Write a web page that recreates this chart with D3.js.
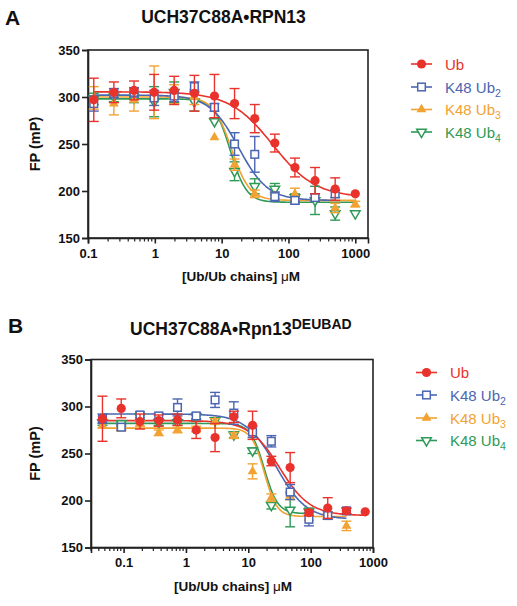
<!DOCTYPE html>
<html><head><meta charset="utf-8">
<script src="https://cdn.jsdelivr.net/npm/d3@7"></script>
<style>
body{margin:0;background:#fff;}
svg{display:block;font-family:"Liberation Sans",Arial,Helvetica,sans-serif;}
</style></head>
<body><svg id="c" width="517" height="606"></svg>
<script>
// ---------- DATA ----------
const seriesNames = ["Ub", "K48 Ub", "K48 Ub", "K48 Ub"];
const seriesSubs = ["", "2", "3", "4"];
const colors = ["#e8322b", "#4b66b2", "#f2a233", "#2f9a57"];

// Panel A concentrations (µM)
const xA = [0.122, 0.244, 0.488, 0.977, 1.95, 3.91, 7.81, 15.6, 31.3, 62.5, 125, 250, 500, 1000];
const yA_ub   = [297, 305, 307, 305, 307, 304, 301, 293, 277, 251, 225, 211, 202, 197];
const eA_ub   = [23, 11, 10, 19, 15, 19, 23, 16, 15, 9.5, 10, 14, 12, 0];
const yA_ub2  = [293, 304, 305, 299, 301, 311, 289, 250, 239, 194, 190, 193, 197];
const eA_ub2  = [8, 5, 5, 8, 6, 5, 4, 12, 19, 5, 4, 4, 4];
const yA_ub3  = [299, 293, 297, 305, 303, 300, 257, 228, 197, 195, 197, 193, 182, 186];
const eA_ub3  = [12, 12, 12, 28, 10, 8, 0, 6, 4, 3, 6, 4, 5, 3];
const yA_ub4  = [298, 300, 299, 295, 305, 295, 274, 221, 205, 202, 193, 190, 176, 176];
const eA_ub4  = [6, 5, 5, 16, 11, 10, 0, 10, 8, 6, 4, 15, 7, 0];
// Fitted curve parameters A: [top, bottom, EC50, Hill]
const fitA = [[305.5, 193, 58, 1.35], [302, 190, 18, 2.0], [300, 190, 14, 3.2], [298, 188, 13.5, 3.6]];

// Panel B concentrations (µM)
const xB = [0.0458, 0.0916, 0.183, 0.366, 0.732, 1.46, 2.93, 5.86, 11.7, 23.4, 46.9, 93.8, 188, 375, 750];
const yB_ub   = [287, 298, 284, 285, 286, 275, 267, 289, 280, 242, 235, 187, 192, 189, 188];
const eB_ub   = [24, 10, 8, 6, 6, 9, 15, 6, 15, 5, 16, 3, 11, 3, 0];
const yB_ub2  = [287, 278, 291, 290, 299, 290, 307, 293, 273, 263, 209, 180, 184, 189];
const eB_ub2  = [5, 3, 3, 3, 9, 3, 8, 12, 6, 6, 8, 7, 4, 3];
const yB_ub3  = [280, 277, 282, 272, 275, 276, 284, 269, 231, 203, 205, 182, 183, 173];
const eB_ub3  = [3, 3, 3, 3, 3, 3, 3, 3, 8, 4, 4, 3, 3, 5];
const yB_ub4  = [283, 282, 289, 283, 283, 289, 285, 270, 253, 195, 190, 188];
const eB_ub4  = [3, 3, 3, 3, 3, 3, 3, 3, 3, 4, 18, 4];
const fitB = [[285, 184, 32, 1.8], [292, 180, 28, 1.8], [277, 183, 18, 4.3], [282, 186, 18, 4.0]];

const yTicks = [150, 200, 250, 300, 350];
const xTickLabels = ["0.1", "1", "10", "100", "1000"];
const xTickValues = [0.1, 1, 10, 100, 1000];

// ---------- DRAW ----------
const svg = d3.select("#c");

function panel(cfg) {
  const g = svg.append("g");
  const x = d3.scaleLog().domain(cfg.xDomain).range([cfg.x0, cfg.x1]);
  const y = d3.scaleLinear().domain([150, 350]).range([cfg.y1, cfg.y0]);

  // frame
  g.append("rect").attr("x", cfg.x0).attr("y", cfg.y0)
    .attr("width", cfg.x1 - cfg.x0).attr("height", cfg.y1 - cfg.y0)
    .attr("fill", "none").attr("stroke", "#222").attr("stroke-width", 1.6);

  // y axis
  const ya = g.append("g").attr("transform", `translate(${cfg.x0},0)`)
    .call(d3.axisLeft(y).tickValues(yTicks).tickSize(6).tickPadding(2).tickFormat(d3.format("d")));
  ya.select(".domain").attr("stroke", "#222").attr("stroke-width", 1.6);
  ya.selectAll(".tick line").attr("stroke", "#222").attr("stroke-width", 1.6);
  ya.selectAll("text").attr("font-size", 13).attr("font-weight", "bold").attr("fill", "#111")
    .attr("font-family", "'Liberation Sans',Arial,sans-serif");

  // x axis minor ticks
  const minors = [];
  const lo = Math.floor(Math.log10(cfg.xDomain[0])), hi = Math.ceil(Math.log10(cfg.xDomain[1]));
  for (let e = lo; e <= hi; e++) for (let m = 2; m <= 9; m++) {
    const v = m * Math.pow(10, e);
    if (v >= cfg.xDomain[0] * 0.999 && v <= cfg.xDomain[1]) minors.push(v);
  }
  g.append("g").selectAll("line").data(minors).join("line")
    .attr("x1", d => x(d)).attr("x2", d => x(d))
    .attr("y1", cfg.y1).attr("y2", cfg.y1 + 3.5)
    .attr("stroke", "#222").attr("stroke-width", 1.2);
  const xa = g.append("g").attr("transform", `translate(0,${cfg.y1})`)
    .call(d3.axisBottom(x).tickValues(xTickValues.filter(v => v <= cfg.xDomain[1] * 1.01))
      .tickSize(5.5).tickPadding(5).tickFormat((d, i) => xTickLabels[xTickValues.indexOf(d)]));
  xa.select(".domain").attr("stroke", "#222").attr("stroke-width", 1.6);
  xa.selectAll(".tick line").attr("stroke", "#222").attr("stroke-width", 1.6);
  xa.selectAll("text").attr("font-size", 13).attr("font-weight", "bold").attr("fill", "#111")
    .attr("font-family", "'Liberation Sans',Arial,sans-serif");

  // axis titles
  g.append("text").attr("transform", `translate(40,${(cfg.y0 + cfg.y1) / 2}) rotate(-90)`)
    .attr("text-anchor", "middle").attr("font-size", 14.5).attr("font-weight", "bold").attr("fill", "#111")
    .text("FP (mP)");
  const xt = g.append("text").attr("x", cfg.xLabelX).attr("y", cfg.y1 + 43)
    .attr("text-anchor", "middle").attr("font-size", 13.5).attr("font-weight", "bold").attr("fill", "#111");
  xt.append("tspan").text("[Ub/Ub chains] ");
  xt.append("tspan").attr("font-weight", "normal").text("\u03bc");
  xt.append("tspan").text("M");

  // series
  const order = [3, 2, 1, 0];
  const line = d3.line().x(d => x(d[0])).y(d => y(d[1]));
  order.forEach(i => {
    const xs = cfg.xs.slice(0, cfg.ys[i].length);
    const [top, bot, ec, h] = cfg.fit[i];
    const xmin = xs[0], xmax = xs[xs.length - 1];
    const pts = d3.range(0, 201).map(k => {
      const lx = Math.log10(xmin) + (Math.log10(xmax) - Math.log10(xmin)) * k / 200;
      const xv = Math.pow(10, lx);
      return [xv, bot + (top - bot) / (1 + Math.pow(xv / ec, h))];
    });
    g.append("path").attr("d", line(pts)).attr("fill", "none")
      .attr("stroke", colors[i]).attr("stroke-width", 1.6);
  });
  order.forEach(i => {
    const xs = cfg.xs.slice(0, cfg.ys[i].length);
    const data = xs.map((xv, k) => ({ x: xv, y: cfg.ys[i][k], e: cfg.es[i][k] }));
    const eg = g.append("g").attr("stroke", colors[i]).attr("stroke-width", 1.4);
    data.filter(d => d.e > 0).forEach(d => {
      const cx = x(d.x);
      eg.append("line").attr("x1", cx).attr("x2", cx).attr("y1", y(d.y - d.e)).attr("y2", y(d.y + d.e));
      eg.append("line").attr("x1", cx - 5).attr("x2", cx + 5).attr("y1", y(d.y - d.e)).attr("y2", y(d.y - d.e));
      eg.append("line").attr("x1", cx - 5).attr("x2", cx + 5).attr("y1", y(d.y + d.e)).attr("y2", y(d.y + d.e));
    });
    const mg = g.append("g");
    data.forEach(d => drawMarker(mg, i, x(d.x), y(d.y)));
  });

  // legend
  cfg.legendY.forEach((ly, i) => {
    const lg = g.append("g");
    lg.append("line").attr("x1", cfg.legX).attr("x2", cfg.legX + 21).attr("y1", ly).attr("y2", ly)
      .attr("stroke", colors[i]).attr("stroke-width", 1.6);
    drawMarker(lg, i, cfg.legX + 10.5, ly);
    const t = lg.append("text").attr("x", cfg.legX + 34).attr("y", ly + 5.5)
      .attr("font-size", 15).attr("fill", colors[i]).text(seriesNames[i]);
    if (seriesSubs[i]) t.append("tspan").attr("font-size", 10.5).attr("dy", 4).text(seriesSubs[i]);
  });
}

function drawMarker(g, i, cx, cy) {
  if (i === 0) {
    g.append("circle").attr("cx", cx).attr("cy", cy).attr("r", 4.6).attr("fill", colors[0]);
  } else if (i === 1) {
    g.append("rect").attr("x", cx - 3.8).attr("y", cy - 3.8).attr("width", 7.6).attr("height", 7.6)
      .attr("fill", "#fff").attr("stroke", colors[1]).attr("stroke-width", 1.5);
  } else if (i === 2) {
    g.append("path").attr("d", d3.symbol(d3.symbolTriangle, 42)())
      .attr("transform", `translate(${cx},${cy})`).attr("fill", colors[2]);
  } else {
    g.append("path").attr("d", d3.symbol(d3.symbolTriangle, 40)())
      .attr("transform", `translate(${cx},${cy}) rotate(180)`)
      .attr("fill", "#fff").attr("stroke", colors[3]).attr("stroke-width", 1.5);
  }
}

panel({
  x0: 88, x1: 368, y0: 50, y1: 238, xDomain: [0.1, 1550],
  xs: xA, ys: [yA_ub, yA_ub2, yA_ub3, yA_ub4], es: [eA_ub, eA_ub2, eA_ub3, eA_ub4], fit: fitA,
  legendY: [64, 87, 109.5, 132], legX: 411, xLabelX: 241
});
panel({
  x0: 91, x1: 373, y0: 359.5, y1: 547.5, xDomain: [0.03, 1000],
  xs: xB, ys: [yB_ub, yB_ub2, yB_ub3, yB_ub4], es: [eB_ub, eB_ub2, eB_ub3, eB_ub4], fit: fitB,
  legendY: [372.5, 395, 418, 440.5], legX: 416, xLabelX: 233
});

// titles
svg.append("text").attr("x", 5).attr("y", 25).attr("font-size", 21).attr("font-weight", "900").attr("fill", "#111").text("A");
svg.append("text").attr("x", 8).attr("y", 333).attr("font-size", 21).attr("font-weight", "900").attr("fill", "#111").text("B");
svg.append("text").attr("x", 223.5).attr("y", 23).attr("text-anchor", "middle")
  .attr("font-size", 17.5).attr("font-weight", "bold").attr("fill", "#111").text("UCH37C88A\u2022RPN13");
const tb = svg.append("text").attr("x", 130).attr("y", 335)
  .attr("font-size", 17.5).attr("font-weight", "bold").attr("fill", "#111");
tb.append("tspan").text("UCH37C88A\u2022Rpn13");
tb.append("tspan").attr("font-size", 14).attr("dy", -6.5).text("DEUBAD");
</script></body></html>
